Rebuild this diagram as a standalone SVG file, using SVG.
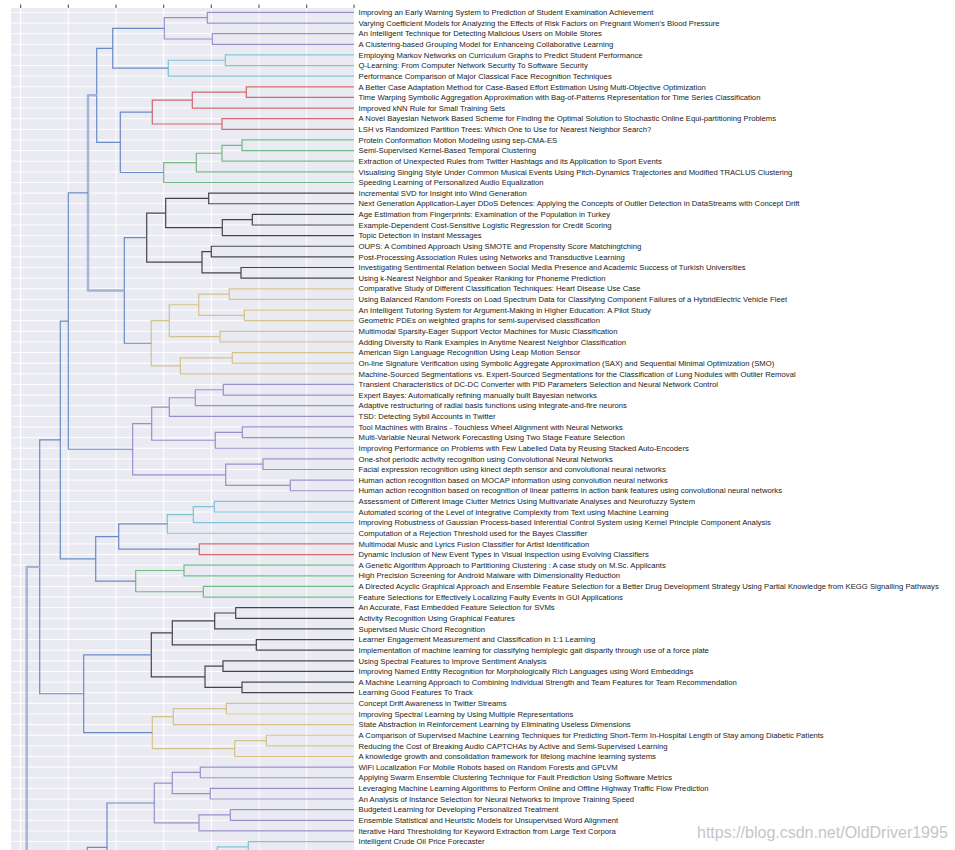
<svg xmlns="http://www.w3.org/2000/svg" width="955" height="850" viewBox="0 0 955 850">
<style>
.bg{fill:#eaeaf2}
.grid{fill:none;stroke:#ffffff;stroke-width:1}
.tick{stroke:#444;stroke-width:1}
.ln{fill:none;stroke-width:1.2}
.b{stroke:#6a8bc6}
.bghost{stroke:#a3b4d9;stroke-width:2.4}
.m{stroke:#9a8fcb}
.c{stroke:#80c3d6}
.r{stroke:#d4686c}
.g{stroke:#74b986}
.k{stroke:#454545}
.y{stroke:#d5c48a}
text{font-family:"Liberation Sans",Arial,sans-serif;font-size:7.7px;fill:#222222}
.wm{font-size:16px;fill:#c6c6c6}
</style>
<rect width="955" height="850" fill="#ffffff"/>
<rect class="bg" x="11" y="8" width="343" height="850"/>
<g id="grid">
<path class="grid" d="M20.7 8V850M68.3 8V850M116 8V850M163.7 8V850M211.3 8V850M259 8V850M306.7 8V850"/>
<path class="grid" d="M11 12.4H354M11 23.03H354M11 33.66H354M11 44.29H354M11 54.92H354M11 65.55H354M11 76.18H354M11 86.81H354M11 97.44H354M11 108.07H354M11 118.7H354M11 129.33H354M11 139.96H354M11 150.59H354M11 161.22H354M11 171.85H354M11 182.48H354M11 193.11H354M11 203.74H354M11 214.37H354M11 225H354M11 235.63H354M11 246.26H354M11 256.89H354M11 267.52H354M11 278.15H354M11 288.78H354M11 299.41H354M11 310.04H354M11 320.67H354M11 331.3H354M11 341.93H354M11 352.56H354M11 363.19H354M11 373.82H354M11 384.45H354M11 395.08H354M11 405.71H354M11 416.34H354M11 426.97H354M11 437.6H354M11 448.23H354M11 458.86H354M11 469.49H354M11 480.12H354M11 490.75H354M11 501.38H354M11 512.01H354M11 522.64H354M11 533.27H354M11 543.9H354M11 554.53H354M11 565.16H354M11 575.79H354M11 586.42H354M11 597.05H354M11 607.68H354M11 618.31H354M11 628.94H354M11 639.57H354M11 650.2H354M11 660.83H354M11 671.46H354M11 682.09H354M11 692.72H354M11 703.35H354M11 713.98H354M11 724.61H354M11 735.24H354M11 745.87H354M11 756.5H354M11 767.13H354M11 777.76H354M11 788.39H354M11 799.02H354M11 809.65H354M11 820.28H354M11 830.91H354M11 841.54H354"/>
<path class="tick" d="M20.7 4.5V8M68.3 4.5V8M116 4.5V8M163.7 4.5V8M211.3 4.5V8M259 4.5V8M306.7 4.5V8M354 4.5V8"/>
</g>
<g id="connectors">
<g class="ln m">
<path d="M354 12.4H207.3V23.03H354"/>
<path d="M354 33.66H212.3V44.29H354"/>
<path d="M207.3 17.72H164.3V38.98H212.3"/>
<path d="M354 384.45H223.3V395.08H354"/>
<path d="M223.3 389.77H195.3V405.71H354"/>
<path d="M195.3 397.74H169.3V416.34H354"/>
<path d="M354 426.97H242.3V437.6H354"/>
<path d="M242.3 432.29H215.3V448.23H354"/>
<path d="M169.3 407.04H151.7V440.26H215.3"/>
<path d="M354 458.86H263V469.49H354"/>
<path d="M354 480.12H290.3V490.75H354"/>
<path d="M263 464.18H225.7V485.44H290.3"/>
<path d="M151.7 423.65H132.7V474.81H225.7"/>
<path d="M354 767.13H200.3V777.76H354"/>
<path d="M354 788.39H210.3V799.02H354"/>
<path d="M200.3 772.45H172.3V793.71H210.3"/>
<path d="M354 809.65H230.3V820.28H354"/>
<path d="M230.3 814.97H199V830.91H354"/>
<path d="M172.3 783.08H154.3V822.94H199"/>
</g>
<g class="ln c">
<path d="M354 54.92H225.3V65.55H354"/>
<path d="M225.3 60.24H168.3V76.18H354"/>
<path d="M354 501.38H214.3V512.01H354"/>
<path d="M214.3 506.7H193.3V522.64H354"/>
<path d="M193.3 514.67H167.3V533.27H354"/>
<path d="M354 841.54H248.3V852.17H354"/>
<path d="M248.3 846.86H217.3V900"/>
</g>
<g class="ln r">
<path d="M354 86.81H246.3V97.44H354"/>
<path d="M246.3 92.13H192.3V108.07H354"/>
<path d="M354 118.7H222V129.33H354"/>
<path d="M192.3 100.1H152.3V124.02H222"/>
<path d="M354 543.9H199.3V554.53H354"/>
</g>
<g class="ln g">
<path d="M354 139.96H242V150.59H354"/>
<path d="M242 145.28H222V161.22H354"/>
<path d="M222 153.25H196.3V171.85H354"/>
<path d="M196.3 162.55H163.7V182.48H354"/>
<path d="M354 565.16H184V575.79H354"/>
<path d="M354 586.42H203.3V597.05H354"/>
<path d="M184 570.48H135.7V591.74H203.3"/>
</g>
<g class="ln k">
<path d="M354 193.11H208.7V203.74H354"/>
<path d="M354 214.37H252.3V225H354"/>
<path d="M252.3 219.69H222.3V235.63H354"/>
<path d="M208.7 198.43H165.7V227.66H222.3"/>
<path d="M354 246.26H211.3V256.89H354"/>
<path d="M354 267.52H241V278.15H354"/>
<path d="M211.3 251.58H202V272.84H241"/>
<path d="M165.7 213.05H146.7V262.21H202"/>
<path d="M354 607.68H235.7V618.31H354"/>
<path d="M235.7 613H214.7V628.94H354"/>
<path d="M354 639.57H256.3V650.2H354"/>
<path d="M214.7 620.97H172.3V644.89H256.3"/>
<path d="M354 660.83H223V671.46H354"/>
<path d="M354 682.09H242V692.72H354"/>
<path d="M223 666.15H205V687.41H242"/>
<path d="M172.3 632.93H151.3V676.78H205"/>
</g>
<g class="ln y">
<path d="M354 288.78H229.3V299.41H354"/>
<path d="M354 310.04H244.3V320.67H354"/>
<path d="M229.3 294.1H198.7V315.36H244.3"/>
<path d="M354 331.3H220V341.93H354"/>
<path d="M198.7 304.73H169.3V336.62H220"/>
<path d="M354 352.56H232.3V363.19H354"/>
<path d="M232.3 357.88H180.3V373.82H354"/>
<path d="M169.3 320.68H151.3V365.85H180.3"/>
<path d="M354 703.35H226.3V713.98H354"/>
<path d="M226.3 708.67H173.3V724.61H354"/>
<path d="M354 735.24H266.3V745.87H354"/>
<path d="M266.3 740.56H234.7V756.5H354"/>
<path d="M173.3 716.64H152.3V748.53H234.7"/>
</g>
<g class="ln b">
<path d="M164.3 28.35H112.7V68.21H168.3"/>
<path d="M152.3 112.06H120.3V172.52H163.7"/>
<path d="M112.7 48.28H96.7V142.29H120.3"/>
<path d="M146.7 237.63H124.3V343.27H151.3"/>
<path class="bghost" d="M96.7 95.29H88V290.45H124.3"/>
<path d="M88 192.87H68.3V449.23H132.7"/>
<path d="M167.3 523.97H118.7V549.22H199.3"/>
<path d="M118.7 536.6H95.7V581.11H135.7"/>
<path d="M68.3 321.05H60.3V558.86H95.7"/>
<path d="M151.3 654.86H83.7V732.59H152.3"/>
<path d="M60.3 439.96H39.7V693.73H83.7"/>
<path class="bghost" d="M39.7 566.85H26.7V900"/>
<path d="M154.3 803.01H107V900"/>
<path d="M107 847.3H87.3V900"/>
</g>
</g>
<g id="leaves">
<g id="leaf-0"><text x="358.5" y="15.1">Improving an Early Warning System to Prediction of Student Examination Achievement</text></g>
<g id="leaf-1"><text x="358.5" y="25.73">Varying Coefficient Models for Analyzing the Effects of Risk Factors on Pregnant Women's Blood Pressure</text></g>
<g id="leaf-2"><text x="358.5" y="36.36">An Intelligent Technique for Detecting Malicious Users on Mobile Stores</text></g>
<g id="leaf-3"><text x="358.5" y="46.99">A Clustering-based Grouping Model for Enhanceing Collaborative Learning</text></g>
<g id="leaf-4"><text x="358.5" y="57.62">Employing Markov Networks on Curriculum Graphs to Predict Student Performance</text></g>
<g id="leaf-5"><text x="358.5" y="68.25">Q-Learning: From Computer Network Security To Software Security</text></g>
<g id="leaf-6"><text x="358.5" y="78.88">Performance Comparison of Major Classical Face Recognition Techniques</text></g>
<g id="leaf-7"><text x="358.5" y="89.51">A Better Case Adaptation Method for Case-Based Effort Estimation Using Multi-Objective Optimization</text></g>
<g id="leaf-8"><text x="358.5" y="100.14">Time Warping Symbolic Aggregation Approximation with Bag-of-Patterns Representation for Time Series Classification</text></g>
<g id="leaf-9"><text x="358.5" y="110.77">Improved kNN Rule for Small Training Sets</text></g>
<g id="leaf-10"><text x="358.5" y="121.4">A Novel Bayesian Network Based Scheme for Finding the Optimal Solution to Stochastic Online Equi-partitioning Problems</text></g>
<g id="leaf-11"><text x="358.5" y="132.03">LSH vs Randomized Partition Trees: Which One to Use for Nearest Neighbor Search?</text></g>
<g id="leaf-12"><text x="358.5" y="142.66">Protein Conformation Motion Modeling using sep-CMA-ES</text></g>
<g id="leaf-13"><text x="358.5" y="153.29">Semi-Supervised Kernel-Based Temporal Clustering</text></g>
<g id="leaf-14"><text x="358.5" y="163.92">Extraction of Unexpected Rules from Twitter Hashtags and its Application to Sport Events</text></g>
<g id="leaf-15"><text x="358.5" y="174.55">Visualising Singing Style Under Common Musical Events Using Pitch-Dynamics Trajectories and Modified TRACLUS Clustering</text></g>
<g id="leaf-16"><text x="358.5" y="185.18">Speeding Learning of Personalized Audio Equalization</text></g>
<g id="leaf-17"><text x="358.5" y="195.81">Incremental SVD for Insight into Wind Generation</text></g>
<g id="leaf-18"><text x="358.5" y="206.44">Next Generation Application-Layer DDoS Defences: Applying the Concepts of Outlier Detection in DataStreams with Concept Drift</text></g>
<g id="leaf-19"><text x="358.5" y="217.07">Age Estimation from Fingerprints: Examination of the Population in Turkey</text></g>
<g id="leaf-20"><text x="358.5" y="227.7">Example-Dependent Cost-Sensitive Logistic Regression for Credit Scoring</text></g>
<g id="leaf-21"><text x="358.5" y="238.33">Topic Detection in Instant Messages</text></g>
<g id="leaf-22"><text x="358.5" y="248.96">OUPS: A Combined Approach Using SMOTE and Propensity Score Matchingtching</text></g>
<g id="leaf-23"><text x="358.5" y="259.59">Post-Processing Association Rules using Networks and Transductive Learning</text></g>
<g id="leaf-24"><text x="358.5" y="270.22">Investigating Sentimental Relation between Social Media Presence and Academic Success of Turkish Universities</text></g>
<g id="leaf-25"><text x="358.5" y="280.85">Using k-Nearest Neighbor and Speaker Ranking for Phoneme Prediction</text></g>
<g id="leaf-26"><text x="358.5" y="291.48">Comparative Study of Different Classification Techniques: Heart Disease Use Case</text></g>
<g id="leaf-27"><text x="358.5" y="302.11">Using Balanced Random Forests on Load Spectrum Data for Classifying Component Failures of a HybridElectric Vehicle Fleet</text></g>
<g id="leaf-28"><text x="358.5" y="312.74">An Intelligent Tutoring System for Argument-Making in Higher Education: A Pilot Study</text></g>
<g id="leaf-29"><text x="358.5" y="323.37">Geometric PDEs on weighted graphs for semi-supervised classification</text></g>
<g id="leaf-30"><text x="358.5" y="334">Multimodal Sparsity-Eager Support Vector Machines for Music Classification</text></g>
<g id="leaf-31"><text x="358.5" y="344.63">Adding Diversity to Rank Examples in Anytime Nearest Neighbor Classification</text></g>
<g id="leaf-32"><text x="358.5" y="355.26">American Sign Language Recognition Using Leap Motion Sensor</text></g>
<g id="leaf-33"><text x="358.5" y="365.89">On-line Signature Verification using Symbolic Aggregate Approximation (SAX) and Sequential Minimal Optimization (SMO)</text></g>
<g id="leaf-34"><text x="358.5" y="376.52">Machine-Sourced Segmentations vs. Expert-Sourced Segmentations for the Classification of Lung Nodules with Outlier Removal</text></g>
<g id="leaf-35"><text x="358.5" y="387.15">Transient Characteristics of DC-DC Converter with PID Parameters Selection and Neural Network Control</text></g>
<g id="leaf-36"><text x="358.5" y="397.78">Expert Bayes: Automatically refining manually built Bayesian networks</text></g>
<g id="leaf-37"><text x="358.5" y="408.41">Adaptive restructuring of radial basis functions using integrate-and-fire neurons</text></g>
<g id="leaf-38"><text x="358.5" y="419.04">TSD: Detecting Sybil Accounts in Twitter</text></g>
<g id="leaf-39"><text x="358.5" y="429.67">Tool Machines with Brains - Touchless Wheel Alignment with Neural Networks</text></g>
<g id="leaf-40"><text x="358.5" y="440.3">Multi-Variable Neural Network Forecasting Using Two Stage Feature Selection</text></g>
<g id="leaf-41"><text x="358.5" y="450.93">Improving Performance on Problems with Few Labelled Data by Reusing Stacked Auto-Encoders</text></g>
<g id="leaf-42"><text x="358.5" y="461.56">One-shot periodic activity recognition using Convolutional Neural Networks</text></g>
<g id="leaf-43"><text x="358.5" y="472.19">Facial expression recognition using kinect depth sensor and convolutional neural networks</text></g>
<g id="leaf-44"><text x="358.5" y="482.82">Human action recognition based on MOCAP information using convolution neural networks</text></g>
<g id="leaf-45"><text x="358.5" y="493.45">Human action recognition based on recognition of linear patterns in action bank features using convolutional neural networks</text></g>
<g id="leaf-46"><text x="358.5" y="504.08">Assessment of Different Image Clutter Metrics Using Multivariate Analyses and Neurofuzzy System</text></g>
<g id="leaf-47"><text x="358.5" y="514.71">Automated scoring of the Level of Integrative Complexity from Text using Machine Learning</text></g>
<g id="leaf-48"><text x="358.5" y="525.34">Improving Robustness of Gaussian Process-based Inferential Control System using Kernel Principle Component Analysis</text></g>
<g id="leaf-49"><text x="358.5" y="535.97">Computation of a Rejection Threshold used for the Bayes Classifier</text></g>
<g id="leaf-50"><text x="358.5" y="546.6">Multimodal Music and Lyrics Fusion Classifier for Artist Identification</text></g>
<g id="leaf-51"><text x="358.5" y="557.23">Dynamic Inclusion of New Event Types in Visual Inspection using Evolving Classifiers</text></g>
<g id="leaf-52"><text x="358.5" y="567.86">A Genetic Algorithm Approach to Partitioning Clustering : A case study on M.Sc. Applicants</text></g>
<g id="leaf-53"><text x="358.5" y="578.49">High Precision Screening for Android Malware with Dimensionality Reduction</text></g>
<g id="leaf-54"><text x="358.5" y="589.12">A Directed Acyclic Graphical Approach and Ensemble Feature Selection for a Better Drug Development Strategy Using Partial Knowledge from KEGG Signalling Pathways</text></g>
<g id="leaf-55"><text x="358.5" y="599.75">Feature Selections for Effectively Localizing Faulty Events in GUI Applications</text></g>
<g id="leaf-56"><text x="358.5" y="610.38">An Accurate, Fast Embedded Feature Selection for SVMs</text></g>
<g id="leaf-57"><text x="358.5" y="621.01">Activity Recognition Using Graphical Features</text></g>
<g id="leaf-58"><text x="358.5" y="631.64">Supervised Music Chord Recognition</text></g>
<g id="leaf-59"><text x="358.5" y="642.27">Learner Engagement Measurement and Classification in 1:1 Learning</text></g>
<g id="leaf-60"><text x="358.5" y="652.9">Implementation of machine learning for classifying hemiplegic gait disparity through use of a force plate</text></g>
<g id="leaf-61"><text x="358.5" y="663.53">Using Spectral Features to Improve Sentiment Analysis</text></g>
<g id="leaf-62"><text x="358.5" y="674.16">Improving Named Entity Recognition for Morphologically Rich Languages using Word Embeddings</text></g>
<g id="leaf-63"><text x="358.5" y="684.79">A Machine Learning Approach to Combining Individual Strength and Team Features for Team Recommendation</text></g>
<g id="leaf-64"><text x="358.5" y="695.42">Learning Good Features To Track</text></g>
<g id="leaf-65"><text x="358.5" y="706.05">Concept Drift Awareness in Twitter Streams</text></g>
<g id="leaf-66"><text x="358.5" y="716.68">Improving Spectral Learning by Using Multiple Representations</text></g>
<g id="leaf-67"><text x="358.5" y="727.31">State Abstraction in Reinforcement Learning by Eliminating Useless Dimensions</text></g>
<g id="leaf-68"><text x="358.5" y="737.94">A Comparison of Supervised Machine Learning Techniques for Predicting Short-Term In-Hospital Length of Stay among Diabetic Patients</text></g>
<g id="leaf-69"><text x="358.5" y="748.57">Reducing the Cost of Breaking Audio CAPTCHAs by Active and Semi-Supervised Learning</text></g>
<g id="leaf-70"><text x="358.5" y="759.2">A knowledge growth and consolidation framework for lifelong machine learning systems</text></g>
<g id="leaf-71"><text x="358.5" y="769.83">WiFi Localization For Mobile Robots based on Random Forests and GPLVM</text></g>
<g id="leaf-72"><text x="358.5" y="780.46">Applying Swarm Ensemble Clustering Technique for Fault Prediction Using Software Metrics</text></g>
<g id="leaf-73"><text x="358.5" y="791.09">Leveraging Machine Learning Algorithms to Perform Online and Offline Highway Traffic Flow Prediction</text></g>
<g id="leaf-74"><text x="358.5" y="801.72">An Analysis of Instance Selection for Neural Networks to Improve Training Speed</text></g>
<g id="leaf-75"><text x="358.5" y="812.35">Budgeted Learning for Developing Personalized Treatment</text></g>
<g id="leaf-76"><text x="358.5" y="822.98">Ensemble Statistical and Heuristic Models for Unsupervised Word Alignment</text></g>
<g id="leaf-77"><text x="358.5" y="833.61">Iterative Hard Thresholding for Keyword Extraction from Large Text Corpora</text></g>
<g id="leaf-78"><text x="358.5" y="844.24">Intelligent Crude Oil Price Forecaster</text></g>
</g>
<text class="wm" x="697" y="838">https://blog.csdn.net/OldDriver1995</text>
</svg>
